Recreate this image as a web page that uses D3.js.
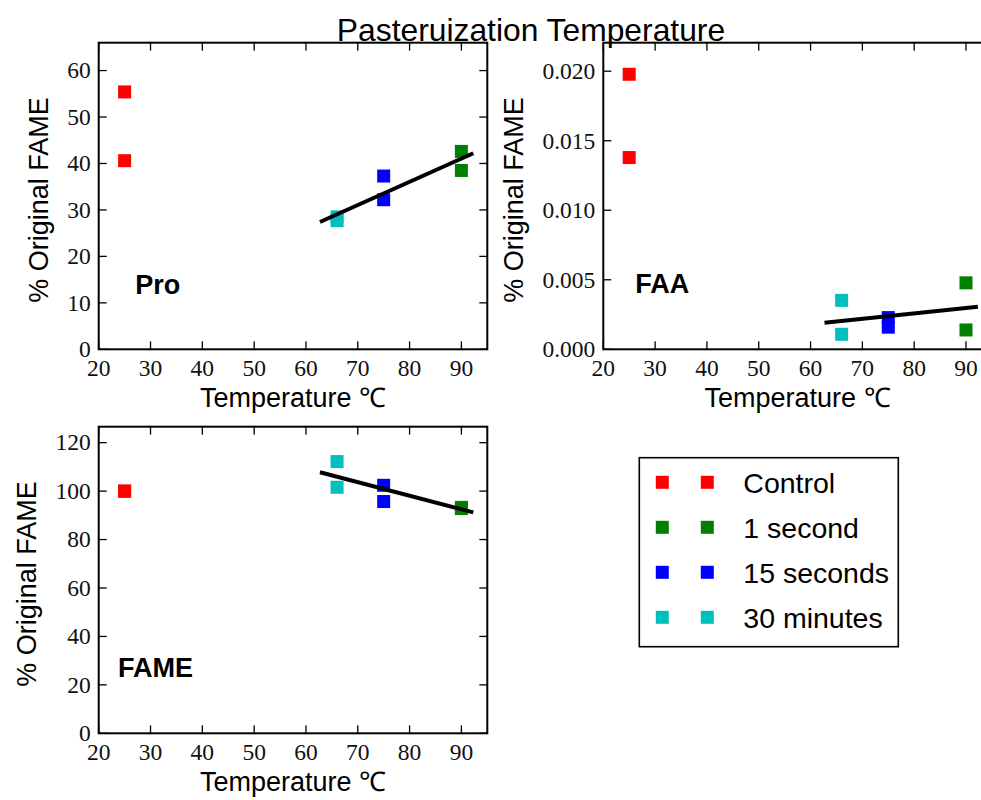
<!DOCTYPE html>
<html>
<head>
<meta charset="utf-8">
<script src="https://cdn.jsdelivr.net/npm/d3@7"></script>
<style>
  body { margin: 0; background: #fff; }
  svg { display: block; }
  .tick-label { font-family: "Liberation Serif", serif; font-size: 23.5px; fill: #111; }
  .axis-label { font-family: "Liberation Sans", sans-serif; font-size: 27px; fill: #000; }
</style>
</head>
<body>
<div id="container"></div>
<script>
// series (one colour per heating treatment)
const seriesNames = ["Control", "1 second", "15 seconds", "30 minutes"];
const seriesColors = ["#ff0000", "#008000", "#0000ff", "#00bfbf"];
const seriesTemps = [25, 90, 75, 66];

// two replicates per treatment
const proValues = [[55.4, 40.6], [42.6, 38.5], [37.3, 32.2], [28.5, 27.7]];
const faaValues = [[0.01978, 0.01379], [0.00478, 0.00139], [0.00228, 0.00159], [0.00352, 0.00108]];
const fameValues = [[100, 100], [93.3, 92.8], [102.4, 95.7], [112.2, 101.6]];

// fit line end points
const fitX = [62.7, 92.3];
const proFit = [27.4, 42.2];
const faaFit = [0.00191, 0.00306];
const fameFit = [107.8, 91.2];

// ticks
const xTicks = [20, 30, 40, 50, 60, 70, 80, 90];
const proTicks = [0, 10, 20, 30, 40, 50, 60];
const faaTicks = [0, 0.005, 0.010, 0.015, 0.020];
const fameTicks = [0, 20, 40, 60, 80, 100, 120];

const width = 981, height = 800;
const axW = 388.6, axH = 306.6;

const svg = d3.select("#container").append("svg")
    .attr("width", width)
    .attr("height", height);

const panels = [
    {name: "Pro", values: proValues, fit: proFit, ticks: proTicks, ymax: 66, fmt: d3.format("d"),
     left: 98.7, top: 42.7, tag: [0.094, 0.18]},
    {name: "FAA", values: faaValues, fit: faaFit, ticks: faaTicks, ymax: 0.02205, fmt: d3.format(".3f"),
     left: 603.3, top: 42.7, tag: [0.082, 0.183]},
    {name: "FAME", values: fameValues, fit: fameFit, ticks: fameTicks, ymax: 126.6, fmt: d3.format("d"),
     left: 98.7, top: 426.7, tag: [0.05, 0.183]}
];

panels.forEach(p => {
    let x = d3.scaleLinear().domain([20, 95]).range([0, axW]);
    let y = d3.scaleLinear().domain([0, p.ymax]).range([axH, 0]);

    let g = svg.append("g").attr("transform", `translate(${p.left},${p.top})`);

    // ticks on all four sides, pointing inward
    let tickLen = 8;
    xTicks.forEach(t => {
        g.append("line").attr("x1", x(t)).attr("x2", x(t)).attr("y1", axH).attr("y2", axH - tickLen)
            .attr("stroke", "#000").attr("stroke-width", 1.3);
        g.append("line").attr("x1", x(t)).attr("x2", x(t)).attr("y1", 0).attr("y2", tickLen)
            .attr("stroke", "#000").attr("stroke-width", 1.3);
        g.append("text").attr("class", "tick-label")
            .attr("x", x(t)).attr("y", axH + 26.5)
            .attr("text-anchor", "middle")
            .text(t);
    });

    let maxLabel = 0;
    p.ticks.forEach(t => {
        g.append("line").attr("x1", 0).attr("x2", tickLen).attr("y1", y(t)).attr("y2", y(t))
            .attr("stroke", "#000").attr("stroke-width", 1.3);
        g.append("line").attr("x1", axW).attr("x2", axW - tickLen).attr("y1", y(t)).attr("y2", y(t))
            .attr("stroke", "#000").attr("stroke-width", 1.3);
        let lbl = g.append("text").attr("class", "tick-label")
            .attr("x", -8).attr("y", y(t) + 7.8)
            .attr("text-anchor", "end")
            .text(p.fmt(t));
        maxLabel = Math.max(maxLabel, lbl.node().getComputedTextLength());
    });

    // markers
    p.values.forEach((vals, i) => {
        g.selectAll(null)
            .data(vals)
            .join("rect")
            .attr("x", x(seriesTemps[i]) - 6.5)
            .attr("y", d => y(d) - 6.5)
            .attr("width", 13)
            .attr("height", 13)
            .attr("fill", seriesColors[i]);
    });

    // fit line
    g.append("line")
        .attr("x1", x(fitX[0])).attr("y1", y(p.fit[0]))
        .attr("x2", x(fitX[1])).attr("y2", y(p.fit[1]))
        .attr("stroke", "#000").attr("stroke-width", 4);

    // frame
    g.append("rect")
        .attr("width", axW).attr("height", axH)
        .attr("fill", "none").attr("stroke", "#000").attr("stroke-width", 2);

    // panel tag
    g.append("text")
        .attr("x", p.tag[0] * axW).attr("y", axH - p.tag[1] * axH)
        .attr("font-family", "Liberation Sans, sans-serif")
        .attr("font-weight", "bold")
        .attr("font-size", 27)
        .text(p.name);

    g.append("text").attr("class", "axis-label")
        .attr("x", axW / 2).attr("y", axH + 58)
        .attr("text-anchor", "middle")
        .text("Temperature \u2103");

    g.append("text").attr("class", "axis-label")
        .attr("transform", `translate(${-8 - maxLabel - 19},${axH / 2 + 4}) rotate(-90)`)
        .attr("text-anchor", "middle")
        .text("% Original FAME");
});

// legend
let legend = svg.append("g").attr("transform", "translate(639.3,457.7)");
legend.append("rect")
    .attr("width", 259).attr("height", 189)
    .attr("fill", "#fff").attr("stroke", "#000").attr("stroke-width", 1.6);

seriesNames.forEach((name, i) => {
    let ry = 24.6 + i * 45;
    [23, 68].forEach(mx => {
        legend.append("rect")
            .attr("x", mx - 6.5).attr("y", ry - 6.5)
            .attr("width", 13).attr("height", 13)
            .attr("fill", seriesColors[i]);
    });
    legend.append("text")
        .attr("x", 104).attr("y", ry + 10.6)
        .attr("font-family", "Liberation Sans, sans-serif")
        .attr("font-size", 28.5)
        .text(name);
});

// figure title, drawn last so it sits over the spines
svg.append("text")
    .attr("x", 531).attr("y", 41)
    .attr("text-anchor", "middle")
    .attr("font-family", "Liberation Sans, sans-serif")
    .attr("font-size", 31.8)
    .text("Pasteruization Temperature");
</script>
</body>
</html>
